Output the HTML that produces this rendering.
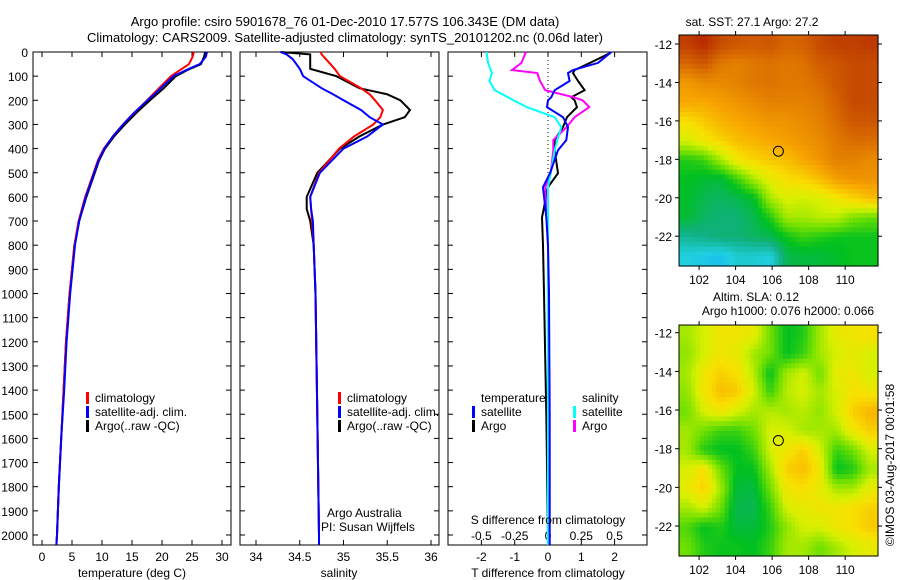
<!DOCTYPE html>
<html><head><meta charset="utf-8"><style>
body{margin:0;background:#fff}
svg{display:block;font-family:"Liberation Sans",sans-serif;font-size:12px}
</style></head><body>
<svg id="s" width="900" height="580" xmlns="http://www.w3.org/2000/svg">
<text x="345" y="26" text-anchor="middle" font-size="13">Argo profile: csiro 5901678_76 01-Dec-2010 17.577S 106.343E (DM data)</text>
<text x="345" y="42" text-anchor="middle" font-size="13">Climatology: CARS2009. Satellite-adjusted climatology: synTS_20101202.nc (0.06d later)</text>
<g id="g"></g>
</svg>
<script>
// ---- data ----
const depthT=[0,20,50,75,100,150,200,250,300,350,400,450,500,600,700,800,900,1000,1200,1400,1600,1800,2000,2040];
const tempClim=[25.3,25.1,24.5,23,21.5,19.5,17.5,15.5,13.5,11.8,10.3,9.3,8.6,7.2,6.1,5.4,5.0,4.6,4.0,3.6,3.2,2.8,2.5,2.4];
const tempArgo=[27.2,27.0,26.5,24.2,22.3,20.3,18.0,15.8,13.8,12.0,10.5,9.5,8.8,7.4,6.2,5.4,5.0,4.6,4.0,3.6,3.2,2.8,2.5,2.4];
const tempSat=[27.5,27.3,26.3,24.0,21.9,19.8,17.6,15.4,13.5,11.8,10.4,9.4,8.7,7.3,6.2,5.5,5.1,4.7,4.1,3.7,3.2,2.8,2.5,2.4];
const depthS=[0,10,30,70,100,150,175,200,240,270,300,350,400,500,600,650,700,800,1000,1500,2000,2040];
const salClim=[34.74,34.75,34.8,34.9,34.96,35.2,35.3,35.36,35.45,35.42,35.34,35.12,34.95,34.72,34.62,34.63,34.64,34.66,34.68,34.7,34.72,34.72];
const salArgo=[34.28,34.62,34.62,34.62,34.92,35.18,35.5,35.65,35.76,35.7,35.45,35.18,34.96,34.7,34.58,34.58,34.62,34.66,34.68,34.7,34.72,34.72];
const salSat=[34.28,34.35,34.42,34.5,34.54,34.75,34.88,35.0,35.2,35.3,35.45,35.27,35.0,34.73,34.62,34.63,34.65,34.66,34.68,34.7,34.72,34.72];
const depthD=[0,5,45,75,87,120,158,187,200,228,270,311,365,407,502,560,685,800,1000,1500,2000,2040];
const dTArgo=[1.86,1.86,1.26,0.8,0.75,0.9,1.1,0.7,0.8,0.87,0.57,0.45,0.2,0.2,0.3,0.0,-0.18,-0.15,-0.12,-0.05,0,0];
const dTSat=[1.9,1.86,1.5,0.75,0.6,0.65,0.2,0.1,0.0,-0.03,0.45,0.6,0.55,0.3,0.06,-0.15,-0.05,0.0,0.03,0.05,0.05,0.05];
const dSArgo=[-0.16,-0.17,-0.2,-0.27,-0.08,-0.06,-0.02,0.19,0.26,0.31,0.2,0.14,0.04,0.04,0.02,-0.02,-0.01,0,0,0,0,0];
const dSSat=[-0.46,-0.46,-0.45,-0.43,-0.42,-0.44,-0.4,-0.3,-0.26,-0.16,0.05,0.1,0.07,0.05,0.02,0.0,0.0,0.0,0.0,0.0,0.0,0.0];
const depthTicks=[0,100,200,300,400,500,600,700,800,900,1000,1100,1200,1300,1400,1500,1600,1700,1800,1900,2000];
const tTicks=[0,5,10,15,20,25,30];
const sTicks=[34,34.5,35,35.5,36];
const dTTicks=[-2,-1,0,1,2];
const dSTicks=[-0.5,-0.25,0,0.25,0.5];
const dSTickLabels=["-0.5","-0.25","0","0.25","0.5"];
const sstGrid=[
[.92,.95,.9,.88,.87,.88,.85,.86,.9,.92,.92,.93],
[.85,.88,.82,.8,.82,.83,.82,.83,.87,.88,.9,.9],
[.75,.78,.78,.8,.82,.83,.82,.82,.84,.88,.9,.9],
[.72,.72,.74,.76,.78,.8,.8,.8,.82,.86,.9,.9],
[.62,.66,.7,.72,.74,.76,.76,.78,.8,.84,.88,.88],
[.55,.6,.64,.68,.7,.72,.74,.76,.78,.82,.84,.84],
[.38,.4,.5,.6,.64,.66,.68,.72,.76,.8,.8,.78],
[.35,.33,.32,.4,.5,.58,.62,.64,.68,.74,.76,.76],
[.34,.3,.28,.3,.34,.5,.56,.54,.56,.6,.64,.68],
[.33,.28,.26,.26,.3,.38,.5,.5,.52,.52,.46,.44],
[.22,.24,.26,.26,.28,.3,.36,.4,.38,.36,.36,.36],
[.12,.1,.08,.14,.14,.12,.3,.32,.32,.34,.36,.36]];
const slaGrid=[
[.5,.55,.6,.6,.58,.45,.35,.38,.5,.58,.6,.62],
[.48,.55,.6,.58,.5,.45,.35,.4,.5,.55,.58,.55],
[.5,.6,.65,.62,.52,.35,.5,.55,.45,.58,.6,.55],
[.48,.6,.68,.66,.55,.4,.52,.55,.5,.55,.62,.6],
[.45,.55,.6,.55,.5,.52,.5,.52,.48,.55,.65,.7],
[.5,.45,.4,.4,.45,.55,.55,.5,.5,.5,.6,.65],
[.5,.38,.35,.35,.4,.55,.6,.65,.55,.4,.45,.55],
[.55,.62,.45,.35,.35,.5,.65,.68,.6,.35,.38,.5],
[.58,.65,.5,.32,.32,.45,.6,.62,.58,.5,.5,.58],
[.5,.55,.45,.3,.3,.4,.55,.58,.6,.6,.62,.65],
[.42,.35,.38,.32,.32,.38,.48,.55,.55,.6,.62,.66],
[.45,.38,.36,.36,.35,.4,.5,.5,.45,.5,.55,.58]];
const lonTicks=[102,104,106,108,110];
const latTicks=[-12,-14,-16,-18,-20,-22];
const argoPos=[106.343,-17.577];

// ---- helpers ----
const NS="http://www.w3.org/2000/svg";
const G=document.getElementById('g');
function el(t,a,p){const e=document.createElementNS(NS,t);for(const k in a)e.setAttribute(k,a[k]);(p||G).appendChild(e);return e;}
function txt(x,y,s,anchor,extra){const e=el('text',Object.assign({x:x,y:y,'text-anchor':anchor||'middle'},extra||{}));e.textContent=s;return e;}
const Y0=52,PXD=0.2415,YB=545;
const yD=d=>Y0+d*PXD;
const xT=v=>42+v*6;
const xS=v=>256+(v-34)*87.5;
const xDT=v=>548+v*33.3;
const xDS=v=>548+v*133.2;

function panel(x0,x1,name){
  const r=el('rect',{x:x0,y:Y0,width:x1-x0,height:YB-Y0,fill:'none',stroke:'#000','stroke-width':1});
  
  
  depthTicks.forEach(d=>{el('line',{x1:x0,x2:x0+5,y1:yD(d),y2:yD(d),stroke:'#000'});el('line',{x1:x1,x2:x1-5,y1:yD(d),y2:yD(d),stroke:'#000'});});
}
function series(xs,ds,fx,color,name,w){
  const p=el('polyline',{points:xs.map((v,i)=>fx(v).toFixed(1)+','+yD(ds[i]).toFixed(1)).join(' '),fill:'none',stroke:color,'stroke-width':w||2});
  
  
}
function xticks(x0,x1,vals,fx,labels,ylab){
  vals.forEach((v,i)=>{const x=fx(v);el('line',{x1:x,x2:x,y1:YB,y2:YB-5,stroke:'#000'});el('line',{x1:x,x2:x,y1:Y0,y2:Y0+5,stroke:'#000'});
    const t=txt(x,ylab,labels?labels[i]:String(v));
    
    });
}
depthTicks.forEach(d=>{const t=txt(28,yD(d)+5,String(d),'end');
  
  });

panel(33,231,'temperature-panel');
xticks(33,231,tTicks,xT,null,561);
series(tempArgo,depthT,xT,'#000','temp-argo-line');
series(tempClim,depthT,xT,'#f00','temp-climatology-line');
series(tempSat,depthT,xT,'#00f','temp-satellite-line');
{const t=txt(132,577,'temperature (deg C)');}

panel(240,439,'salinity-panel');
xticks(240,439,sTicks,xS,["34","34.5","35","35.5","36"],561);
series(salArgo,depthS,xS,'#000','sal-argo-line');
series(salClim,depthS,xS,'#f00','sal-climatology-line');
series(salSat,depthS,xS,'#00f','sal-satellite-line');
{const t=txt(339,577,'salinity');}

panel(448,647,'difference-panel');
el('line',{x1:548,x2:548,y1:Y0,y2:YB,stroke:'#000','stroke-dasharray':'1,3'});
dTTicks.forEach(v=>{const x=xDT(v);el('line',{x1:x,x2:x,y1:YB,y2:YB-5,stroke:'#000'});el('line',{x1:x,x2:x,y1:Y0,y2:Y0+5,stroke:'#000'});
  const t=txt(x,561,String(v));});
dSTicks.forEach((v,i)=>{const t=txt(xDS(v),540,dSTickLabels[i]);});
series(dTArgo,depthD,xDT,'#000','tdiff-argo-line');
series(dSArgo,depthD,xDS,'#f0f','sdiff-argo-line');
series(dSSat,depthD,xDS,'#0ff','sdiff-satellite-line');
series(dTSat,depthD,xDT,'#00f','tdiff-satellite-line');
{const t=txt(548,524,'S difference from climatology');}
{const t=txt(548,577,'T difference from climatology');}

function legItem(x,y,c,s,name){el('rect',{x:x,y:y-10,width:3,height:12,fill:c});const t=txt(x+9,y,s,'start');
  }
[[86,'#f00','climatology'],[86,'#00f','satellite-adj. clim.'],[86,'#000','Argo(..raw -QC)']].forEach((a,i)=>legItem(a[0],402+i*14,a[1],a[2],'legend-entry-temp'));
[[338,'#f00','climatology'],[338,'#00f','satellite-adj. clim.'],[338,'#000','Argo(..raw -QC)']].forEach((a,i)=>legItem(a[0],402+i*14,a[1],a[2],'legend-entry-sal'));
txt(481,402,'temperature','start');txt(582,402,'salinity','start');
legItem(472,416,'#00f','satellite','legend-t-satellite');legItem(472,430,'#000','Argo','legend-t-argo');
legItem(573,416,'#0ff','satellite','legend-s-satellite');legItem(573,430,'#f0f','Argo','legend-s-argo');
txt(327,517,'Argo Australia','start');txt(321,531,'PI: Susan Wijffels','start');

const stops=[[0,[16,160,255]],[.12,[32,208,224]],[.25,[16,176,128]],[.35,[0,192,32]],[.45,[112,224,0]],[.55,[216,240,0]],[.62,[248,224,0]],[.72,[248,168,0]],[.82,[224,120,0]],[.92,[192,64,0]],[1,[176,0,0]]];
function cmap(v){for(let i=1;i<stops.length;i++){if(v<=stops[i][0]){const a=stops[i-1],b=stops[i],t=(v-a[0])/(b[0]-a[0]);
  return 'rgb('+a[1].map((c,k)=>Math.round(c+(b[1][k]-c)*t)).join(',')+')';}}return 'rgb(176,0,0)';}
function sample(grid,fr,fc){
  const R=grid.length,C=grid[0].length;
  fr=Math.max(0,Math.min(R-1,fr));fc=Math.max(0,Math.min(C-1,fc));
  const r0=Math.floor(fr),c0=Math.floor(fc),r1=Math.min(R-1,r0+1),c1=Math.min(C-1,c0+1),tr=fr-r0,tc=fc-c0;
  return (grid[r0][c0]*(1-tc)+grid[r0][c1]*tc)*(1-tr)+(grid[r1][c0]*(1-tc)+grid[r1][c1]*tc)*tr;
}
function map(grid,x0,y0,w,h,latTop,latBot,name){
  const lonL=100.9,lonR=111.8;
  const xL=v=>x0+(v-lonL)/(lonR-lonL)*w, yL=v=>y0+(latTop-v)/(latTop-latBot)*h;
  const rows=grid.length,cols=grid[0].length,SUB=4,cw=w/cols/SUB,ch=h/rows/SUB;
  const g=el('g',{});
  for(let r=0;r<rows*SUB;r++)for(let c=0;c<cols*SUB;c++){
    const v=sample(grid,(r+0.5)/SUB-0.5,(c+0.5)/SUB-0.5);
    const cell=el('rect',{x:(x0+c*cw).toFixed(2),y:(y0+r*ch).toFixed(2),width:(cw+0.6).toFixed(2),height:(ch+0.6).toFixed(2),fill:cmap(v)},g);
    
  }
  el('rect',{x:x0,y:y0,width:w,height:h,fill:'none',stroke:'#000'});
  lonTicks.forEach(v=>{const x=xL(v);el('line',{x1:x,x2:x,y1:y0,y2:y0-4,stroke:'#000'});el('line',{x1:x,x2:x,y1:y0+h,y2:y0+h+4,stroke:'#000'});txt(x,y0+h+18,String(v));});
  latTicks.forEach(v=>{const y=yL(v);el('line',{x1:x0,x2:x0-4,y1:y,y2:y,stroke:'#000'});el('line',{x1:x0+w,x2:x0+w+4,y1:y,y2:y,stroke:'#000'});txt(x0-7,y+5,String(v),'end');});
  const c=el('circle',{cx:xL(argoPos[0]),cy:yL(argoPos[1]),r:5,fill:'none',stroke:'#000'});
  
}
map(sstGrid,679,35,199,231,-11.53,-23.55,'sst-map');
txt(752,26,'sat. SST: 27.1  Argo: 27.2','middle');
map(slaGrid,679,325,199,231,-11.6,-23.55,'sla-map');
txt(756,301,'Altim. SLA: 0.12','middle');txt(788,315,'Argo h1000: 0.076 h2000: 0.066','middle');
{const t=txt(0,0,'©IMOS 03-Aug-2017 00:01:58','middle',{transform:'translate(894,465) rotate(-90)'});
 }
</script>
</body></html>
